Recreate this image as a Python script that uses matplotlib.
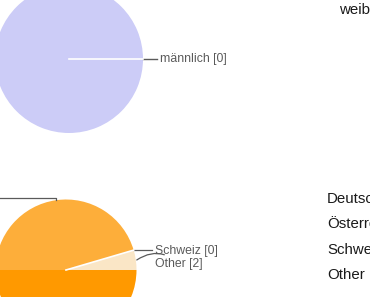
import numpy as np
import matplotlib.pyplot as plt

plt.rcParams['font.family'] = ['Liberation Sans', 'DejaVu Sans']

W, H = 370, 297

gender_labels = ['männlich', 'weiblich']
gender_counts = [0, 44]
gender_colors = ['#3366cc', '#ccccf7']

country_labels = ['Deutschland', 'Österreich', 'Schweiz', 'Other']
country_counts = [22, 20, 0, 2]
country_colors = ['#ff9900', '#fdae3a', '#ffc266', '#fae6c6']

LABEL_GRAY = '#5a5a5a'


def slice_angles(counts):
    # clockwise from 3 o'clock, like ax.pie(startangle=0, counterclock=False)
    counts = np.asarray(counts, dtype=float)
    cum = np.concatenate([[0], np.cumsum(counts)]) / counts.sum()
    start = -360 * cum[:-1]
    end = -360 * cum[1:]
    return start, end, (start + end) / 2


def edge_point(cx, cy, r, ang):
    a = np.deg2rad(ang)
    return cx + r * np.cos(a), cy + r * np.sin(a)


def draw_pie(ax, counts, colors, cx, cy, r):
    ax.pie(counts, colors=colors, startangle=0, counterclock=False,
           center=(cx, cy), radius=r, wedgeprops=dict(linewidth=0))
    start, end, mid = slice_angles(counts)
    # empty slices show up as a thin white spoke
    for c, a in zip(counts, start):
        if c == 0:
            ex, ey = edge_point(cx, cy, r, a)
            ax.plot([cx, ex], [cy, ey], color='white', lw=1.2, zorder=3)
    return start, mid


fig = plt.figure(figsize=(W / 100, H / 100), dpi=100)
ax = fig.add_axes([0, 0, 1, 1])

# top pie (gender), image coords -> y up
gx, gy, gr = 69, H - 59, 74
g_start, g_mid = draw_pie(ax, gender_counts, gender_colors, gx, gy, gr)
ex, ey = edge_point(gx, gy, gr, g_mid[0])
ax.plot([ex, 157], [ey, ey], color=LABEL_GRAY, lw=1)
ax.text(160, ey, f'{gender_labels[0]} [{gender_counts[0]}]', color=LABEL_GRAY,
        fontsize=8.8, ha='left', va='center')
ax.text(339, H - 10, gender_labels[1], fontsize=10.8, color='#1a1a1a',
        ha='left', va='center')

# bottom pie (country)
px, py, pr = 66, H - 270, 70.5
c_start, c_mid = draw_pie(ax, country_counts, country_colors, px, py, pr)

# Österreich leader goes off to the left
ex, ey = edge_point(px, py, pr, c_mid[1])
ax.plot([ex, ex, -10], [ey, H - 198, H - 198], color=LABEL_GRAY, lw=0.9)

# Schweiz (zero slice) leader from its spoke
ex, ey = edge_point(px, py, pr, c_start[2])
ax.plot([ex, 152], [ey, ey], color=LABEL_GRAY, lw=0.9)
ax.text(155, ey - 1, f'{country_labels[2]} [{country_counts[2]}]', color=LABEL_GRAY,
        fontsize=8.8, ha='left', va='center')

# Other leader, slightly curved
ex, ey = edge_point(px, py, pr, c_mid[3])
ax.annotate(f'{country_labels[3]} [{country_counts[3]}]', xy=(ex + 1, ey),
            xytext=(155, H - 264), color=LABEL_GRAY, fontsize=8.8,
            ha='left', va='center',
            arrowprops=dict(arrowstyle='-', color=LABEL_GRAY, lw=0.9,
                            connectionstyle='arc3,rad=0.4', shrinkA=1, shrinkB=0))

# legend column on the right (cut off by the crop, as in the screenshot)
for i, name in enumerate(country_labels):
    ax.text(327, H - (199 + 25.3 * i), name, fontsize=10.8, color='#1a1a1a',
            ha='left', va='center')

ax.set_xlim(0, W)
ax.set_ylim(0, H)
ax.set_aspect('equal')
ax.axis('off')

fig.savefig('out.png', dpi=100)
